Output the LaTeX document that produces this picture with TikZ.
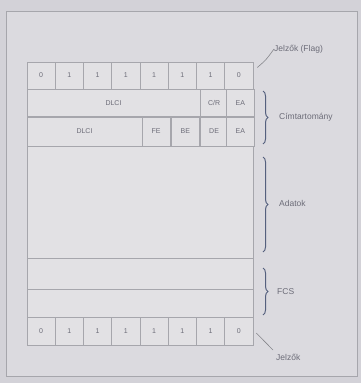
\documentclass[tikz,border=0pt]{standalone}
\usepackage{fontspec}
\setmainfont{Liberation Sans}
\usetikzlibrary{decorations.pathreplacing}
\definecolor{bgc}{HTML}{D3D2D8}
\definecolor{framec}{HTML}{DBDADF}
\definecolor{cellc}{HTML}{E2E1E4}
\definecolor{linec}{HTML}{A6A6AC}
\definecolor{txtc}{HTML}{6C6C78}
\definecolor{bracec}{HTML}{55607E}
\begin{document}
\begin{tikzpicture}[x=1pt,y=-1pt,
  cell/.style={draw=linec, fill=cellc, line width=0.6pt, inner sep=0pt, text=txtc,
    font=\fontsize{7}{8}\selectfont, minimum width=28.25pt, minimum height=27pt},
  lab/.style={text=txtc, font=\fontsize{8.5}{10}\selectfont, inner sep=0pt, anchor=west},
  br/.style={draw=bracec, line width=1pt, decorate, decoration={brace, amplitude=5pt}},
  lead/.style={draw=linec!80!black, line width=0.6pt}]
\useasboundingbox (0,0) rectangle (361,383);
\fill[bgc] (0,0) rectangle (361,383);
\draw[draw=linec, line width=0.6pt, fill=framec] (6,11) rectangle (357,376);
% flag row top
\foreach \v [count=\i] in {0,1,1,1,1,1,1,0} {
  \node[cell] (ft\i) at ({27+28.25*(\i-0.5)},75.5) {\v};
}
% address row 1
\node[cell, minimum width=173pt] (dlci1) at (113.5,103) {DLCI};
\node[cell] (cr) at (214.1,103) {C/R};
\node[cell] (ea1) at (240.4,103) {EA};
% address row 2
\node[cell, minimum width=115pt, minimum height=29pt] (dlci2) at (84.5,131.5) {DLCI};
\node[cell, minimum height=29pt] (fe) at (156.1,131.5) {FE};
\node[cell, minimum height=29pt] (be) at (185.4,131.5) {BE};
\node[cell, minimum height=29pt] (de) at (214.1,131.5) {DE};
\node[cell, minimum height=29pt] (ea2) at (240.4,131.5) {EA};
% data
\node[cell, minimum width=226pt, minimum height=112pt] (data) at (140,202) {};
% fcs
\node[cell, minimum width=226pt, minimum height=31pt] (fcs1) at (140,273.5) {};
\node[cell, minimum width=226pt, minimum height=28pt] (fcs2) at (140,303) {};
% flag row bottom
\foreach \v [count=\i] in {0,1,1,1,1,1,1,0} {
  \node[cell, minimum height=28pt] (fb\i) at ({27+28.25*(\i-0.5)},331) {\v};
}
% braces
\coordinate (b1t) at (263,91);
\coordinate (b1b) at (263,144);
\coordinate (b2t) at (263,157);
\coordinate (b2b) at (263,252);
\coordinate (b3t) at (263,268);
\coordinate (b3b) at (263,315);
\draw[br] (b1t) -- (b1b);
\draw[br] (b2t) -- (b2b);
\draw[br] (b3t) -- (b3b);
\node[lab] (lcim) at (279,117) {Címtartomány};
\node[lab] (ladat) at (279,203) {Adatok};
\node[lab] (lfcs) at (277,292) {FCS};
\node[lab] (lflag) at (274,49) {Jelzők (Flag)};
\node[lab] (ljel) at (276,357) {Jelzők};
% leaders
\draw[lead] (ft8.east) ++(4,-8) .. controls (266,60) .. (lflag.west);
\draw[lead] (fb8.east) ++(3,2) -- (273,350);
\end{tikzpicture}
\end{document}
